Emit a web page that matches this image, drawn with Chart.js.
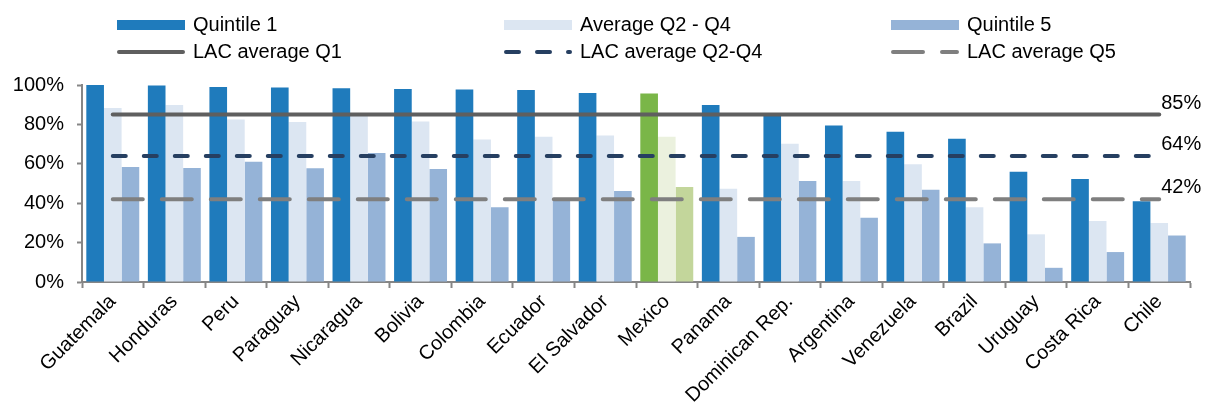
<!DOCTYPE html>
<html lang="en">
<head>
  <meta charset="UTF-8" />
  <title>Quintile coverage by country</title>
  <script src="https://cdn.jsdelivr.net/npm/chart.js"></script>
  <style>
    body {
      margin: 0;
      font-family: "Liberation Sans", Arial, sans-serif;
      background: #fff;
    }
    .wrap {
      position: relative;
      width: 1207px;
      height: 403px;
    }
    .wrap canvas {
      position: absolute;
      left: 0;
      top: 0;
    }
    .legend {
      position: absolute;
      left: 117px;
      top: 11px;
      display: grid;
      grid-template-columns: 387px 387px 300px;
      grid-auto-rows: 27px;
      font-size: 20px;
      color: #000;
    }
    .legend-item {
      display: flex;
      align-items: center;
      white-space: nowrap;
    }
    .legend-item .sw {
      width: 68px;
      margin-right: 8px;
      flex: none;
    }
  </style>
</head>
<body>
  <div class="wrap">
    <canvas id="chart" width="1207" height="403"></canvas>
    <div class="legend" id="legend"></div>
  </div>

  <script>
    const countries = ["Guatemala", "Honduras", "Peru", "Paraguay", "Nicaragua", "Bolivia",
      "Colombia", "Ecuador", "El Salvador", "Mexico", "Panama", "Dominican Rep.",
      "Argentina", "Venezuela", "Brazil", "Uruguay", "Costa Rica", "Chile"];

    const quintile1 = [100, 99.8, 99, 98.7, 98.4, 98, 97.7, 97.5, 96, 95.7, 89.9, 84.6,
      79.5, 76.3, 72.7, 56, 52.3, 41];
    const averageQ2Q4 = [88.3, 89.8, 82.5, 81.2, 85.8, 81.5, 72.3, 73.7, 74.4, 73.7, 47.3, 70.2,
      51.3, 59.8, 38, 24.2, 31, 30];
    const quintile5 = [58.4, 57.9, 61, 57.7, 65.5, 57.4, 38, 41.2, 46.2, 48.2, 22.9, 51.3,
      32.6, 46.8, 19.6, 7.2, 15.2, 23.6];

    const lacQ1 = 85;
    const lacQ2Q4 = 64;
    const lacQ5 = 42;

    const yTicks = [0, 20, 40, 60, 80, 100];

    const highlight = "Mexico";
    const colorFor = (base, green) => countries.map(c => c === highlight ? green : base);

    const barSeries = [
      { label: "Quintile 1", data: quintile1, color: "#1F7BBC", green: "#7AB648" },
      { label: "Average Q2 - Q4", data: averageQ2Q4, color: "#DCE6F2", green: "#EBF1DE" },
      { label: "Quintile 5", data: quintile5, color: "#95B3D7", green: "#C3D69B" }
    ];
    const lineSeries = [
      { label: "LAC average Q1", value: lacQ1, color: "#5F5F5F", dash: [] },
      { label: "LAC average Q2-Q4", value: lacQ2Q4, color: "#263F61", dash: [13, 18] },
      { label: "LAC average Q5", value: lacQ5, color: "#7F7F7F", dash: [30, 19] }
    ];

    const datasets = [
      ...barSeries.map(s => ({
        type: "bar",
        label: s.label,
        data: s.data,
        backgroundColor: colorFor(s.color, s.green),
        borderWidth: 0,
        categoryPercentage: 0.86,
        barPercentage: 1.0,
        order: 2
      })),
      ...lineSeries.map(s => ({
        type: "line",
        label: s.label,
        data: countries.map(() => s.value),
        borderColor: s.color,
        borderWidth: 4,
        borderDash: s.dash,
        borderCapStyle: "round",
        pointRadius: 0,
        fill: false,
        order: 1,
        lacValue: s.value
      }))
    ];

    // percentage labels at the right end of the average lines
    const endLabels = {
      id: "endLabels",
      afterDatasetsDraw(chart) {
        const ctx = chart.ctx;
        ctx.save();
        ctx.font = "20px 'Liberation Sans', Arial, sans-serif";
        ctx.fillStyle = "#000";
        ctx.textAlign = "left";
        ctx.textBaseline = "alphabetic";
        chart.data.datasets.forEach((ds, i) => {
          if (ds.type !== "line") return;
          const pts = chart.getDatasetMeta(i).data;
          const last = pts[pts.length - 1];
          ctx.fillText(ds.lacValue + "%", last.x + 2, last.y - 6);
        });
        ctx.restore();
      }
    };

    const axisColor = "#868686";
    const tickFont = { family: "'Liberation Sans', Arial, sans-serif", size: 20 };

    new Chart(document.getElementById("chart"), {
      data: { labels: countries, datasets: datasets },
      options: {
        responsive: false,
        animation: false,
        layout: { padding: { top: 85, right: 17, left: 0, bottom: 0 } },
        plugins: {
          legend: { display: false },
          tooltip: { enabled: false }
        },
        scales: {
          x: {
            grid: {
              display: true,
              drawOnChartArea: false,
              tickLength: 6,
              tickWidth: 2,
              color: axisColor,
              offset: true
            },
            border: { display: true, color: axisColor, width: 2 },
            ticks: {
              autoSkip: false,
              maxRotation: 45,
              minRotation: 45,
              padding: 2,
              color: "#000",
              font: tickFont
            },
            afterFit(scale) { scale.height = 121; }
          },
          y: {
            min: 0,
            max: 100,
            afterBuildTicks(scale) { scale.ticks = yTicks.map(v => ({ value: v })); },
            grid: {
              display: true,
              drawOnChartArea: false,
              tickLength: 5,
              tickWidth: 2,
              color: axisColor
            },
            border: { display: true, color: axisColor, width: 2 },
            ticks: {
              padding: 13,
              color: "#000",
              font: tickFont,
              callback: v => v + "%"
            },
            afterFit(scale) { scale.width = 82; }
          }
        }
      },
      plugins: [endLabels]
    });

    // legend laid out as a 3 x 2 grid like the original
    function swatch(item) {
      if (item.bar) {
        return '<svg class="sw" width="68" height="10"><rect width="68" height="10" fill="' + item.color + '"/></svg>';
      }
      return '<svg class="sw" width="68" height="8"><line x1="2" y1="4" x2="66" y2="4" stroke="' + item.color +
        '" stroke-width="4" stroke-linecap="round" stroke-dasharray="' + (item.dash.join(" ") || "none") + '"/></svg>';
    }
    const legendItems = [
      ...barSeries.map(s => ({ label: s.label, color: s.color, bar: true })),
      ...lineSeries.map(s => ({ label: s.label, color: s.color, dash: s.dash, bar: false }))
    ];
    document.getElementById("legend").innerHTML = legendItems.map(it =>
      '<div class="legend-item">' + swatch(it) + '<span>' + it.label + '</span></div>'
    ).join("");
  </script>
</body>
</html>
